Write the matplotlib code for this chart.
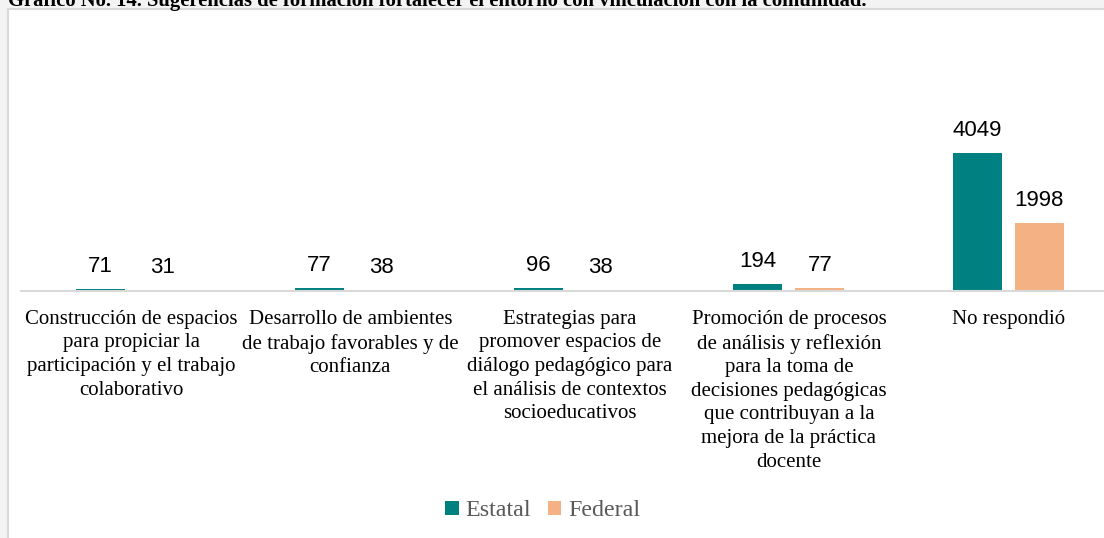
import matplotlib
matplotlib.use("Agg")
import matplotlib.pyplot as plt
from matplotlib.patches import Rectangle, Patch
import numpy as np

categories = [
    "Construcción de espacios\npara propiciar la\nparticipación y el trabajo\ncolaborativo",
    "Desarrollo de ambientes\nde trabajo favorables y de\nconfianza",
    "Estrategias para\npromover espacios de\ndiálogo pedagógico para\nel análisis de contextos\nsocioeducativos",
    "Promoción de procesos\nde análisis y reflexión\npara la toma de\ndecisiones pedagógicas\nque contribuyan a la\nmejora de la práctica\ndocente",
    "No respondió",
]
estatal = [71, 77, 96, 194, 4049]
federal = [31, 38, 38, 77, 1998]
series_names = ["Estatal", "Federal"]
title = "Gráfico No. 14. Sugerencias de formación fortalecer el entorno con vinculación con la comunidad."

teal = "#008080"
peach = "#F4B183"

W, H = 1104, 538
fig = plt.figure(figsize=(W / 100, H / 100), dpi=100)
fig.patch.set_facecolor("#f3f3f3")

# white frame
frame = Rectangle((8 / W, -0.1), 1.2, 1 - 9 / H + 0.1, transform=fig.transFigure,
                  facecolor="white", edgecolor="#d9d9d9", linewidth=1.5, zorder=-5)
fig.patches.append(frame)

fig.text(8 / W, 1 - 6 / H, title, ha="left", va="baseline", fontsize=14.85,
         fontweight="bold", family="Liberation Serif", color="black")

ax = fig.add_axes([21.4 / W, 1 - 291 / H, 1096.5 / W, 251 / H])
ax.set_zorder(2)
ax.set_facecolor("none")
x = np.arange(len(categories))
off = 0.1414
bw = 0.2235
b1 = ax.bar(x - off, estatal, bw, color=teal, label=series_names[0])
b2 = ax.bar(x + off, federal, bw, color=peach, label=series_names[1])

for bars, vals in ((b1, estatal), (b2, federal)):
    for rect, v in zip(bars, vals):
        ax.annotate(str(v), (rect.get_x() + rect.get_width() / 2, rect.get_height()),
                    xytext=(0, 17), textcoords="offset pixels", ha="center",
                    va="baseline", fontsize=16, family="Liberation Sans", color="#000000")

ax.set_xlim(-0.5, 4.5)
ax.set_ylim(0, 7360)
ax.set_yticks([])
ax.set_xticks(x)
ax.set_xticklabels(categories, fontsize=15, family="Liberation Serif", linespacing=1.33)
ax.tick_params(axis="x", length=0, pad=13.5)
for s in ("top", "right", "left"):
    ax.spines[s].set_visible(False)
ax.spines["bottom"].set_color("#d9d9d9")
ax.spines["bottom"].set_linewidth(1.5)

handles = [Patch(facecolor=teal), Patch(facecolor=peach)]
leg = fig.legend(handles, series_names, loc="center", bbox_to_anchor=(543 / W, 1 - 511 / H),
                 ncol=2, frameon=False, prop={"family": "Liberation Serif", "size": 17.3},
                 handlelength=0.55, handleheight=0.55, handletextpad=0.3, columnspacing=0.7,
                 labelcolor="#595959")

fig.savefig("out.png", dpi=100, facecolor=fig.get_facecolor())
